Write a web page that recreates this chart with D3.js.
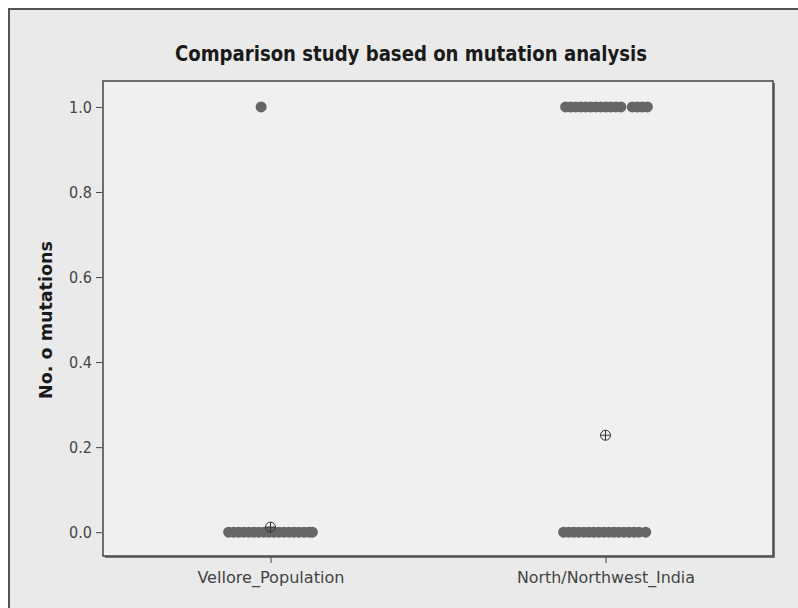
<!DOCTYPE html>
<html>
<head>
<meta charset="utf-8">
<script src="https://cdn.jsdelivr.net/npm/d3@7"></script>
<style>
  body { margin: 0; background: #fff; }
  svg { display: block; }
</style>
</head>
<body>
<svg id="chart" width="798" height="608"></svg>
<script>
// categories and values
const categories = ['Vellore_Population', 'North/Northwest_India'];
const yTicks = [0.0, 0.2, 0.4, 0.6, 0.8, 1.0];
const means = [0.012, 0.228];

// individual values, with their horizontal jitter (fraction of a category step)
const velloreZeroJitter = [-0.125, -0.11, -0.095, -0.08, -0.065, -0.05, -0.035, -0.02, -0.005, 0.01, 0.025, 0.04, 0.055, 0.07, 0.085, 0.1, 0.115, 0.125];
const velloreOneJitter = [-0.028];
const northZeroJitter = [-0.125, -0.11, -0.095, -0.08, -0.065, -0.05, -0.035, -0.02, -0.005, 0.01, 0.025, 0.04, 0.055, 0.07, 0.085, 0.1, 0.12];
const northOneJitter = [-0.119, -0.104, -0.089, -0.074, -0.059, -0.044, -0.029, -0.014, 0.001, 0.016, 0.031, 0.046, 0.08, 0.095, 0.11, 0.125];

const points = [
  ...velloreZeroJitter.map(j => ({cat: categories[0], value: 0, jitter: j})),
  ...velloreOneJitter.map(j => ({cat: categories[0], value: 1, jitter: j})),
  ...northZeroJitter.map(j => ({cat: categories[1], value: 0, jitter: j})),
  ...northOneJitter.map(j => ({cat: categories[1], value: 1, jitter: j}))
];

const svg = d3.select('#chart');
const W = 798, H = 608;
const plot = {left: 103, top: 81, right: 773, bottom: 556};
const font = 'DejaVu Sans Condensed, DejaVu Sans, sans-serif';

// outer panel
svg.append('rect')
  .attr('x', 9).attr('y', 9)
  .attr('width', W).attr('height', H)
  .attr('fill', '#eaeaea')
  .attr('stroke', '#555')
  .attr('stroke-width', 2);

// title
svg.append('text')
  .attr('x', 411).attr('y', 61)
  .attr('text-anchor', 'middle')
  .attr('font-family', font)
  .attr('font-weight', 'bold')
  .attr('font-size', 21)
  .attr('fill', '#1a1a1a')
  .attr('textLength', 472)
  .attr('lengthAdjust', 'spacingAndGlyphs')
  .text('Comparison study based on mutation analysis');

// plot area with shadow
svg.append('rect')
  .attr('x', plot.left + 2).attr('y', plot.top + 2)
  .attr('width', plot.right - plot.left).attr('height', plot.bottom - plot.top)
  .attr('fill', '#777');
svg.append('rect')
  .attr('x', plot.left).attr('y', plot.top)
  .attr('width', plot.right - plot.left).attr('height', plot.bottom - plot.top)
  .attr('fill', '#f0f0f0')
  .attr('stroke', '#444')
  .attr('stroke-width', 1.5);

const x = d3.scalePoint()
  .domain(categories)
  .range([plot.left, plot.right])
  .padding(0.5);

const y = d3.scaleLinear()
  .domain([-0.056, 1.061])
  .range([plot.bottom, plot.top]);

const yAxis = d3.axisLeft(y)
  .tickValues(yTicks)
  .tickFormat(d3.format('.1f'))
  .tickSize(6)
  .tickPadding(4);

const gy = svg.append('g')
  .attr('transform', `translate(${plot.left - 1}, 0)`)
  .call(yAxis)
  .attr('font-family', font)
  .attr('font-size', 16);
gy.select('.domain').remove();
gy.selectAll('line').attr('stroke', '#444');
gy.selectAll('text')
  .attr('fill', '#444')
  .attr('dy', '0.35em');

const xAxis = d3.axisBottom(x)
  .tickSize(6)
  .tickPadding(9);

const gx = svg.append('g')
  .attr('transform', `translate(0, ${plot.bottom + 1})`)
  .call(xAxis)
  .attr('font-family', font)
  .attr('font-size', 16);
gx.select('.domain').remove();
gx.selectAll('line').attr('stroke', '#444');
gx.selectAll('text')
  .attr('fill', '#444')
  .attr('textLength', (d, i) => [147, 178][i])
  .attr('lengthAdjust', 'spacingAndGlyphs');

// y axis title
svg.append('text')
  .attr('transform', 'translate(52, 320) rotate(-90)')
  .attr('text-anchor', 'middle')
  .attr('font-family', font)
  .attr('font-weight', 'bold')
  .attr('font-size', 17)
  .attr('fill', '#1a1a1a')
  .attr('textLength', 158)
  .attr('lengthAdjust', 'spacingAndGlyphs')
  .text('No. o mutations');

// individual value dots
const step = x.step();
svg.append('g')
  .selectAll('circle')
  .data(points)
  .enter()
  .append('circle')
    .attr('cx', d => x(d.cat) + d.jitter * step)
    .attr('cy', d => y(d.value))
    .attr('r', 5.5)
    .attr('fill', '#666');

// mean symbols
const meanG = svg.append('g')
  .selectAll('g')
  .data(categories)
  .enter()
  .append('g')
    .attr('transform', (d, i) => `translate(${x(d)}, ${y(means[i])})`);
meanG.append('circle')
  .attr('r', 5)
  .attr('fill', 'none')
  .attr('stroke', '#333')
  .attr('stroke-width', 1);
meanG.append('line')
  .attr('x1', -5).attr('x2', 5)
  .attr('stroke', '#333').attr('stroke-width', 1);
meanG.append('line')
  .attr('y1', -5).attr('y2', 5)
  .attr('stroke', '#333').attr('stroke-width', 1);
</script>
</body>
</html>
